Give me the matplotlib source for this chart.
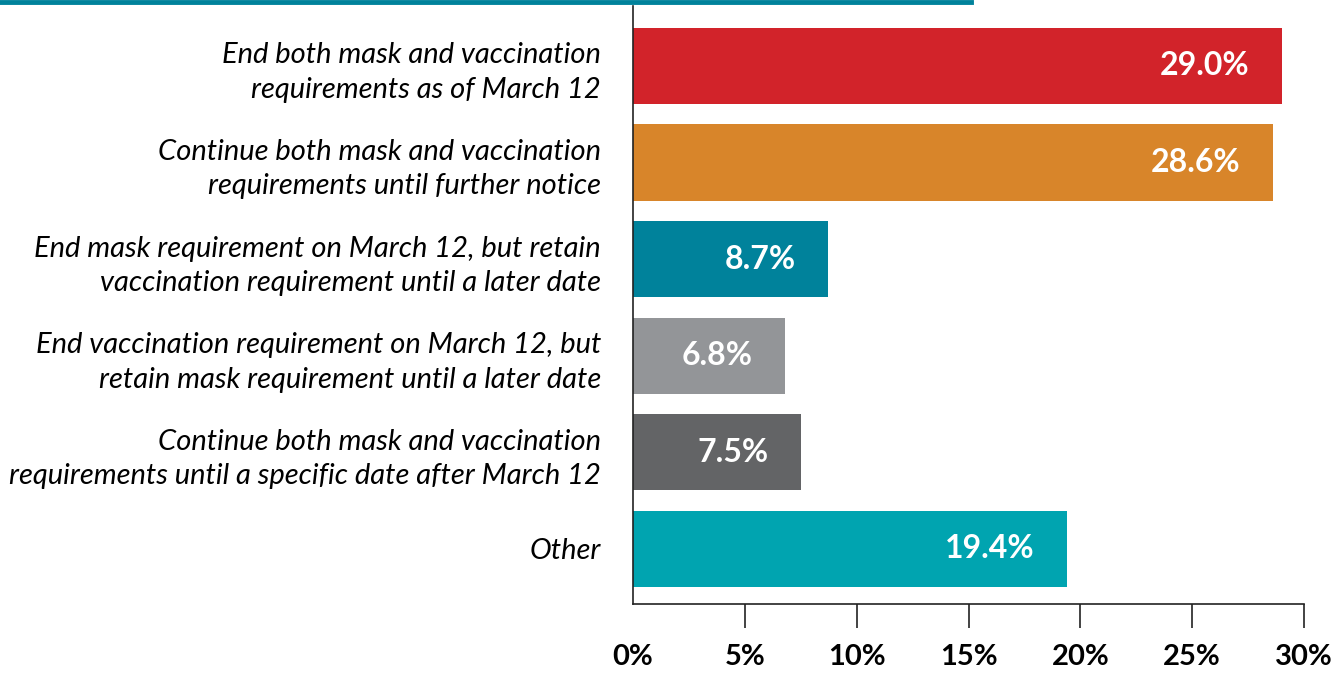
import matplotlib.pyplot as plt
from matplotlib.lines import Line2D

# data
labels = [
    "End both mask and vaccination\nrequirements as of March 12",
    "Continue both mask and vaccination\nrequirements until further notice",
    "End mask requirement on March 12, but retain\nvaccination requirement until a later date",
    "End vaccination requirement on March 12, but\nretain mask requirement until a later date",
    "Continue both mask and vaccination\nrequirements until a specific date after March 12",
    "Other",
]
values = [29.0, 28.6, 8.7, 6.8, 7.5, 19.4]
colors = ["#D2232A", "#D8852A", "#00829B", "#939598", "#636466", "#00A4B0"]
ticks = [0, 5, 10, 15, 20, 25, 30]
tick_labels = ["0%", "5%", "10%", "15%", "20%", "25%", "30%"]

fig = plt.figure(figsize=(13.44, 6.73), dpi=100)
ax = fig.add_axes([633/1344, 69/673, 671/1344, 598/673])

y = list(range(len(values)))
ax.barh(y, values, height=0.79, color=colors)
ax.set_xlim(0, 30)
ax.set_ylim(5.57, -0.62)

for i, v in enumerate(values):
    ax.annotate("{:.1f}%".format(v), (v, i), xytext=(-32, 0), textcoords="offset pixels",
                ha="right", va="center", color="white", fontsize=23,
                fontweight="bold", family="Lato")

ax.set_yticks(y)
ax.set_yticklabels(labels, fontsize=21, style="italic", family="Lato", linespacing=1.4)
ax.tick_params(axis="y", length=0, pad=23)

ax.set_xticks(ticks)
ax.set_xticklabels(tick_labels, fontsize=21, fontweight="bold", family="Lato")
ax.tick_params(axis="x", length=17, width=1.2, pad=12, color="#222222")
ax.xaxis.get_major_ticks()[0].tick1line.set_visible(False)

for s in ["top", "right"]:
    ax.spines[s].set_visible(False)
ax.spines["left"].set_linewidth(1.2)
ax.spines["bottom"].set_linewidth(1.2)
ax.spines["left"].set_color("#222222")
ax.spines["bottom"].set_color("#222222")

# teal rule across the top
fig.add_artist(Line2D([0, 971/1344], [671/673, 671/673], color="#00829B", linewidth=3.5))

fig.savefig("out.png", dpi=100)
